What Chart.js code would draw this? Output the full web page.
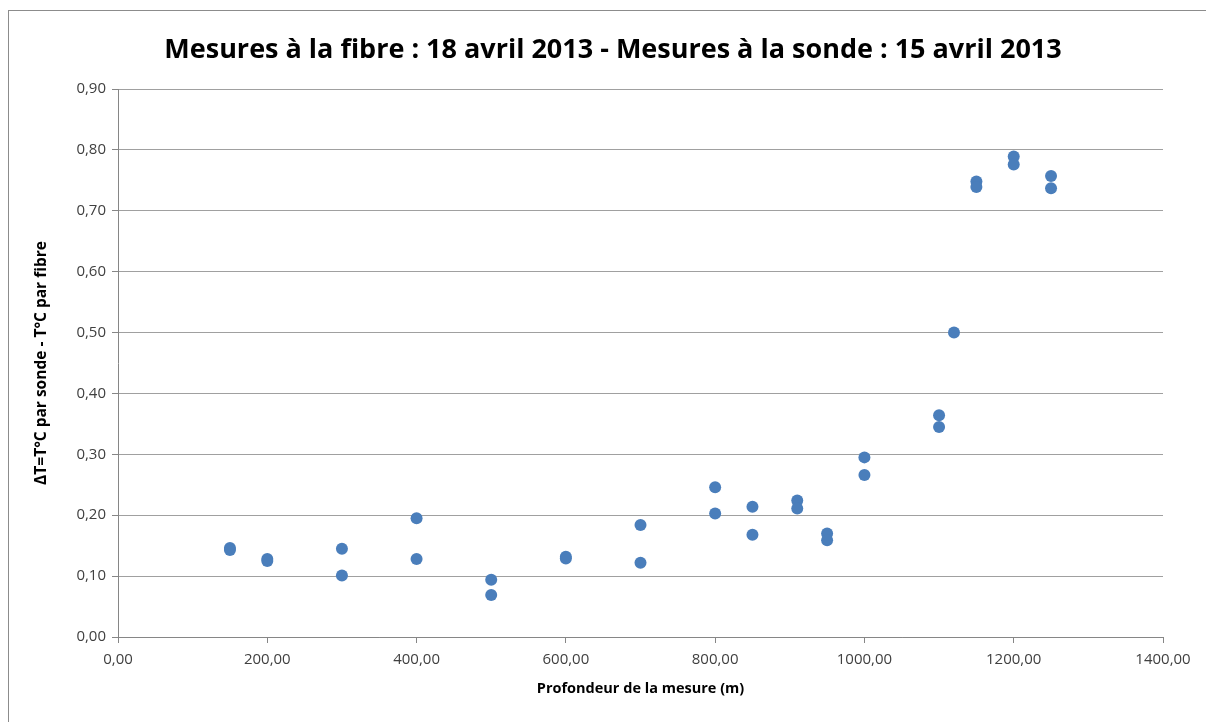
<!DOCTYPE html>
<html>
<head>
<meta charset="utf-8">
<script src="https://cdn.jsdelivr.net/npm/chart.js@4/dist/chart.umd.min.js"></script>
<style>
    body { margin: 0; background: #fff; }
    #frame { position: absolute; left: 8px; top: 10px; width: 1200px; height: 720px; border: 1px solid #8c8c8c; box-sizing: border-box; }
    #wrap { position: absolute; left: 0; top: 0; width: 1206px; height: 722px; }
    #title { position: absolute; left: 313px; width: 600px; top: 29px; margin: 0; text-align: center; white-space: nowrap;
             display: flex; justify-content: center; font: bold 27px "Open Sans", "DejaVu Sans Condensed", sans-serif; color: #000; }
</style>
</head>
<body>
<div id="frame"></div>
<div id="wrap"><canvas id="chart"></canvas></div>
<div id="title"></div>
<script>
// profondeur (m) et ecart de temperature
var depths = [150, 150, 200, 200, 300, 300, 400, 400, 500, 500, 600, 600, 700, 700,
              800, 800, 850, 850, 910, 910, 950, 950, 1000, 1000, 1100, 1100, 1120,
              1150, 1150, 1200, 1200, 1250, 1250];
var deltaT = [0.146, 0.143, 0.128, 0.125, 0.145, 0.101, 0.195, 0.128, 0.094, 0.069, 0.132, 0.129, 0.184, 0.122,
              0.246, 0.203, 0.214, 0.168, 0.224, 0.211, 0.170, 0.159, 0.295, 0.266, 0.364, 0.345, 0.500,
              0.748, 0.739, 0.789, 0.776, 0.757, 0.737];
var xTicks = [0, 200, 400, 600, 800, 1000, 1200, 1400];
var yTicks = [0, 0.1, 0.2, 0.3, 0.4, 0.5, 0.6, 0.7, 0.8, 0.9];

var titleText = 'Mesures à la fibre : 18 avril 2013 - Mesures à la sonde : 15 avril 2013';
var xTitle = 'Profondeur de la mesure (m)';
var yTitle = 'ΔT=T°C par sonde - T°C par fibre';

document.getElementById('title').textContent = titleText;

function fr(v) {
    return v.toFixed(2).replace('.', ',');
}

var points = depths.map(function(d, i) {
    return { x: d, y: deltaT[i] };
});

var fontFamily = '"Open Sans", "DejaVu Sans Condensed", sans-serif';

new Chart(document.getElementById('chart'), {
    type: 'scatter',
    data: {
        datasets: [{
            data: points,
            pointRadius: 6,
            pointHoverRadius: 6,
            pointBackgroundColor: '#4a7ebb',
            pointBorderColor: '#4a7ebb',
            pointBorderWidth: 0
        }]
    },
    options: {
        responsive: true,
        maintainAspectRatio: false,
        animation: false,
        layout: { padding: { left: 28, right: 43, top: 89, bottom: 20 } },
        scales: {
            x: {
                type: 'linear',
                min: 0,
                max: 1400,
                afterBuildTicks: function(scale) {
                    scale.ticks = xTicks.map(function(v) { return { value: v }; });
                },
                afterFit: function(scale) { scale.height = 65; },
                grid: { drawOnChartArea: false, drawTicks: true, tickLength: 6, color: '#868686' },
                border: { color: '#868686' },
                ticks: {
                    color: '#404040',
                    font: { family: fontFamily, size: 15 },
                    padding: 8,
                    maxRotation: 0,
                    callback: function(v) { return fr(v); }
                },
                title: {
                    display: true,
                    text: xTitle,
                    color: '#000',
                    font: { family: fontFamily, size: 14.5, weight: 'bold' },
                    padding: { top: 4 }
                }
            },
            y: {
                min: 0,
                max: 0.9,
                afterBuildTicks: function(scale) {
                    scale.ticks = yTicks.map(function(v) { return { value: v }; });
                },
                afterFit: function(scale) { scale.width = 90; },
                grid: { color: '#a0a0a0', tickLength: 6, tickColor: '#868686' },
                border: { color: '#868686' },
                ticks: {
                    color: '#404040',
                    font: { family: fontFamily, size: 15 },
                    padding: 6,
                    callback: function(v) { return fr(v); }
                },
                title: {
                    display: true,
                    text: yTitle,
                    color: '#000',
                    font: { family: fontFamily, size: 15.5, weight: 'bold' },
                    padding: { bottom: 4 }
                }
            }
        },
        plugins: {
            legend: { display: false },
            tooltip: { enabled: false },
            title: { display: false }
        }
    }
});
</script>
</body>
</html>
